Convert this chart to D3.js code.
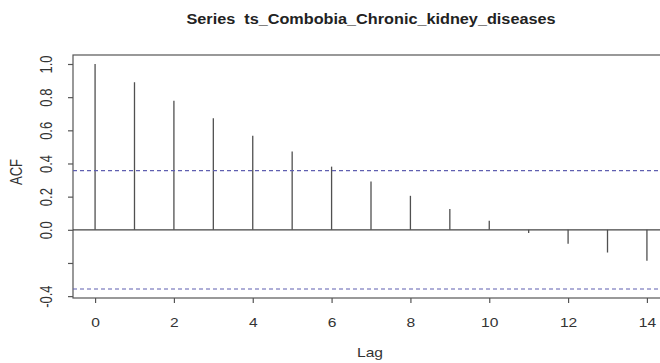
<!DOCTYPE html>
<html>
<head>
<meta charset="utf-8">
<script src="https://cdn.jsdelivr.net/npm/d3@7"></script>
<style>
  body { margin: 0; background: #fff; }
  svg { display: block; }
</style>
</head>
<body>
<div id="acf-chart"></div>
<script>
// données
const lags = [0, 1, 2, 3, 4, 5, 6, 7, 8, 9, 10, 11, 12, 13, 14];
const acf = [1.0, 0.89, 0.779, 0.673, 0.568, 0.472, 0.381, 0.291, 0.205, 0.125, 0.054, -0.02, -0.084, -0.137, -0.187];
const ciBound = 0.357;
const yTicks = [-0.4, -0.2, 0.0, 0.2, 0.4, 0.6, 0.8, 1.0];
const yTickLabels = ["-0.4", "", "0.0", "0.2", "0.4", "0.6", "0.8", "1.0"];
const xTicks = [0, 2, 4, 6, 8, 10, 12, 14];
const title = "Series  ts_Combobia_Chronic_kidney_diseases";

const W = 660, H = 363;
const margin = { top: 55, right: -9, bottom: 65, left: 73 };
const width = W - margin.left - margin.right,
      height = H - margin.top - margin.bottom;

// l'image d'origine est un peu étirée en largeur
const stretch = 1.2;

const svg = d3.select("#acf-chart")
    .append("svg")
    .attr("width", W)
    .attr("height", H)
    .style("font-family", "'Liberation Sans', Arial, sans-serif");

const g = svg.append("g")
    .attr("transform", "translate(" + margin.left + "," + margin.top + ")");

// échelles avec la marge de 4% à la R
const xPad = (14 - 0) * 0.04;
const x = d3.scaleLinear()
    .domain([0 - xPad, 14 + xPad])
    .range([0, width]);

const yMin = -ciBound, yMax = 1.0;
const yPad = (yMax - yMin) * 0.04;
const y = d3.scaleLinear()
    .domain([yMin - yPad, yMax + yPad])
    .range([height, 0]);

const axisColor = "#555";
const textColor = "#333";

// cadre
g.append("rect")
    .attr("x", 0).attr("y", 0)
    .attr("width", width).attr("height", height)
    .attr("fill", "none")
    .attr("stroke", axisColor)
    .attr("stroke-width", 1.2);

// axe X
const xAxis = g.append("g")
    .attr("transform", "translate(0," + height + ")")
    .call(d3.axisBottom(x).tickValues(xTicks).tickSize(5).tickFormat(d3.format("d")));
xAxis.select(".domain").remove();
xAxis.selectAll("line").attr("stroke", axisColor).attr("stroke-width", 1.2);
xAxis.selectAll("text")
    .attr("y", null).attr("dy", null)
    .attr("transform", "translate(0,29) scale(" + stretch + ",1)")
    .style("font-size", "13px")
    .attr("fill", textColor);

// axe Y (textes tournés comme dans R)
const yAxis = g.append("g")
    .call(d3.axisLeft(y).tickValues(yTicks).tickSize(5).tickFormat((d, i) => yTickLabels[i]));
yAxis.select(".domain").remove();
yAxis.selectAll("line").attr("stroke", axisColor).attr("stroke-width", 1.2);
yAxis.selectAll("text")
    .attr("x", null).attr("dy", null)
    .attr("transform", "translate(-21,0) scale(" + stretch + ",1) rotate(-90)")
    .attr("text-anchor", "middle")
    .style("font-size", "13px")
    .attr("fill", textColor);

// ligne zéro
g.append("line")
    .attr("x1", 0).attr("x2", width)
    .attr("y1", y(0)).attr("y2", y(0))
    .attr("stroke", "#444")
    .attr("stroke-width", 1.2);

// barres ACF
g.append("g")
    .selectAll("line")
    .data(lags)
    .enter()
    .append("line")
    .attr("x1", d => x(d))
    .attr("x2", d => x(d))
    .attr("y1", y(0))
    .attr("y2", (d, i) => y(acf[i]))
    .attr("stroke", "#505050")
    .attr("stroke-width", 1.3);

// intervalles de confiance
[ciBound, -ciBound].forEach(v => {
    g.append("line")
        .attr("x1", 0).attr("x2", width)
        .attr("y1", y(v)).attr("y2", y(v))
        .attr("stroke", "#5f5fb0")
        .attr("stroke-width", 1.2)
        .attr("stroke-dasharray", "4,3");
});

// titres
svg.append("text")
    .text(title)
    .attr("transform", "translate(" + (margin.left + width / 2) + ",24) scale(1.16,1)")
    .attr("text-anchor", "middle")
    .style("font-size", "14px")
    .style("font-weight", "bold")
    .attr("fill", "#222")
    .style("white-space", "pre");

svg.append("text")
    .text("Lag")
    .attr("transform", "translate(370,357) scale(" + stretch + ",1)")
    .attr("text-anchor", "middle")
    .style("font-size", "13px")
    .attr("fill", textColor);

svg.append("text")
    .text("ACF")
    .attr("transform", "translate(22,172) scale(" + stretch + ",1) rotate(-90)")
    .attr("text-anchor", "middle")
    .style("font-size", "13px")
    .attr("fill", textColor);
</script>
</body>
</html>
